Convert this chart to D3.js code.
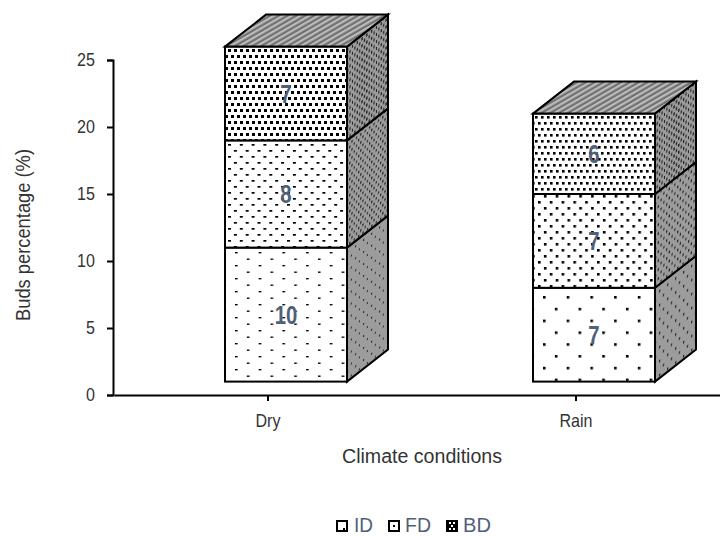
<!DOCTYPE html>
<html>

<head>
  <title>Buds percentage</title>
  <style type="text/css">
    body {
      margin: 0;
      background: #fff;
    }

    text {
      font-family: "Liberation Sans", Arial, sans-serif;
      fill: #333;
    }

    .axis path,
    .axis line {
      stroke: #000;
      stroke-width: 2px;
    }

    .axis text {
      font-size: 17.5px;
    }
  </style>
</head>

<body>
  <div id="chart"></div>
  <script type="text/javascript" src="https://cdn.jsdelivr.net/npm/d3@7"></script>
  <script type="text/javascript">
    var categories = ["Dry", "Rain"];
    var seriesNames = ["ID", "FD", "BD"];
    var idValues = [10, 7];
    var fdValues = [8, 7];
    var bdValues = [7, 6];
    var yTicks = [0, 5, 10, 15, 20, 25];

    var w = 720, h = 536;
    var floorValue = 1; // the boxes stand on a 3d floor, one unit above the axis
    var depthX = 41, depthY = 32;
    var barLeft = 18 - 61, barWidth = 122;

    var svg = d3.select("#chart").append("svg")
      .attr("width", w)
      .attr("height", h)
      .style("display", "block");

    var x = d3.scaleBand().domain(categories).range([114, 730]);
    var y = d3.scaleLinear().domain([0, 25]).range([395, 60]);

    var defs = svg.append("defs");

    // dots in a staggered grid, one pattern for each density
    function dots(id, cw, ch, rw, rh, ox, oy, bg, fill, skew) {
      var p = defs.append("pattern")
        .attr("id", id)
        .attr("patternUnits", "userSpaceOnUse")
        .attr("width", cw)
        .attr("height", ch)
        .attr("patternTransform", "translate(" + ox + "," + oy + ")" + (skew ? " skewY(-38)" : ""));
      p.append("rect").attr("width", cw).attr("height", ch).attr("fill", bg);
      p.append("rect").attr("x", 0).attr("y", 0).attr("width", rw).attr("height", rh).attr("fill", fill);
      p.append("rect").attr("x", cw / 2).attr("y", ch / 2).attr("width", rw).attr("height", rh).attr("fill", fill);
    }

    // id, cell w, cell h, dot w, dot h, origin x, origin y, side cell w, side cell h, side dot w, side dot h
    var frontFills = [
      [["d0", 23.7, 13, 2.6, 1.4, 235, 252, 8, 12, 1, 2],
       ["d1", 11.8, 12, 3, 1.7, 228, 144, 4.4, 8, 1.2, 2.4],
       ["d2", 6, 12, 3, 3, 228, 49, 4.8, 7, 1.3, 3]],
      [["r0", 23.7, 23.6, 2.6, 2.6, 543, 296, 8, 14, 1.2, 2.6],
       ["r1", 11.8, 12, 2.6, 2.6, 538, 201, 5.5, 9, 1.2, 2.6],
       ["r2", 6, 12, 2.6, 2.6, 535, 116, 4.8, 7, 1.3, 3]]
    ];

    frontFills.forEach(function (row) {
      row.forEach(function (f) {
        dots(f[0], f[1], f[2], f[3], f[4], f[5], f[6], "#fff", "#000", false);
        dots(f[0] + "s", f[7], f[8], f[9], f[10], 347, f[6], "#9c9c9c", "#222", true);
      });
    });

    var stripes = defs.append("pattern")
      .attr("id", "topFill")
      .attr("patternUnits", "userSpaceOnUse")
      .attr("width", 6)
      .attr("height", 4.4)
      .attr("patternTransform", "rotate(-30)");
    stripes.append("rect").attr("width", 6).attr("height", 4.4).attr("fill", "#707070");
    stripes.append("rect").attr("width", 6).attr("height", 2.2).attr("fill", "#bcbcbc");

    // axes
    var yAxis = svg.append("g")
      .attr("class", "axis")
      .attr("transform", "translate(113,0)")
      .call(d3.axisLeft(y).tickValues(yTicks).tickSize(6).tickPadding(12));
    yAxis.selectAll("text").attr("x", -18 / 0.92).attr("transform", "scale(0.92,1)");

    var xAxis = svg.append("g")
      .attr("class", "axis")
      .attr("transform", "translate(0,395)")
      .call(d3.axisBottom(x).tickSize(6).tickSizeOuter(0).tickPadding(14));
    xAxis.selectAll("text").attr("transform", "scale(0.92,1)");

    // boxes
    categories.forEach(function (cat, i) {
      var left = x(cat) + x.bandwidth() / 2 + barLeft;
      var right = left + barWidth;
      var base = floorValue;
      var g = svg.append("g");

      [idValues[i], fdValues[i], bdValues[i]].forEach(function (v, s) {
        var y0 = y(base), y1 = y(base + v);
        var name = frontFills[i][s][0];

        g.append("path")
          .attr("d", "M" + right + "," + y0 + "L" + (right + depthX) + "," + (y0 - depthY) +
            "L" + (right + depthX) + "," + (y1 - depthY) + "L" + right + "," + y1 + "Z")
          .attr("fill", "url(#" + name + "s)")
          .attr("stroke", "#000")
          .attr("stroke-width", 2);

        g.append("rect")
          .attr("x", left)
          .attr("y", y1)
          .attr("width", barWidth)
          .attr("height", y0 - y1)
          .attr("fill", "url(#" + name + ")")
          .attr("stroke", "#000")
          .attr("stroke-width", 2);

        if (s === 2) {
          g.append("path")
            .attr("d", "M" + left + "," + y1 + "L" + (left + depthX) + "," + (y1 - depthY) +
              "L" + (right + depthX) + "," + (y1 - depthY) + "L" + right + "," + y1 + "Z")
            .attr("fill", "url(#topFill)")
            .attr("stroke", "#000")
            .attr("stroke-width", 2);
        }

        g.append("text")
          .attr("transform", "translate(" + (left + barWidth / 2) + "," + ((y0 + y1) / 2 + 9) + ") scale(0.78,1)")
          .attr("text-anchor", "middle")
          .style("font-size", "26px")
          .style("font-weight", "bold")
          .style("fill", "#4f6079")
          .text(v);

        base += v;
      });
    });

    // axis titles
    svg.append("text")
      .attr("transform", "translate(30,235) rotate(-90)")
      .attr("text-anchor", "middle")
      .attr("textLength", 172)
      .attr("lengthAdjust", "spacingAndGlyphs")
      .style("font-size", "20px")
      .text("Buds percentage (%)");

    svg.append("text")
      .attr("x", 422)
      .attr("y", 463)
      .attr("text-anchor", "middle")
      .attr("textLength", 160)
      .attr("lengthAdjust", "spacingAndGlyphs")
      .style("font-size", "20px")
      .text("Climate conditions");

    // legend
    var legendX = [336, 388, 446];
    var legendTextX = [18, 17, 17];
    var legendTextW = [19, 26, 28];
    var legendBg = ["#fff", "#fff", "#000"];
    var legendInk = ["#000", "#000", "#fff"];
    var legendDots = [[[7, 8]], [[5, 5]], [[3, 2], [7, 2], [5, 5], [3, 8], [7, 8]]];

    seriesNames.forEach(function (name, s) {
      var p = defs.append("pattern")
        .attr("id", "legend" + s)
        .attr("patternUnits", "userSpaceOnUse")
        .attr("width", 12)
        .attr("height", 12);
      p.append("rect").attr("width", 12).attr("height", 12).attr("fill", legendBg[s]);
      legendDots[s].forEach(function (d) {
        p.append("rect").attr("x", d[0]).attr("y", d[1]).attr("width", 2).attr("height", 2).attr("fill", legendInk[s]);
      });

      var lg = svg.append("g").attr("transform", "translate(" + legendX[s] + ",520)");
      lg.append("rect")
        .attr("x", 1).attr("y", 1)
        .attr("width", 10).attr("height", 10)
        .attr("fill", "url(#legend" + s + ")")
        .attr("stroke", "#000")
        .attr("stroke-width", 2);
      lg.append("text")
        .attr("x", legendTextX[s])
        .attr("y", 11.5)
        .attr("textLength", legendTextW[s])
        .attr("lengthAdjust", "spacingAndGlyphs")
        .style("font-size", "20px")
        .style("fill", "#4f6079")
        .text(name);
    });
  </script>
</body>

</html>
